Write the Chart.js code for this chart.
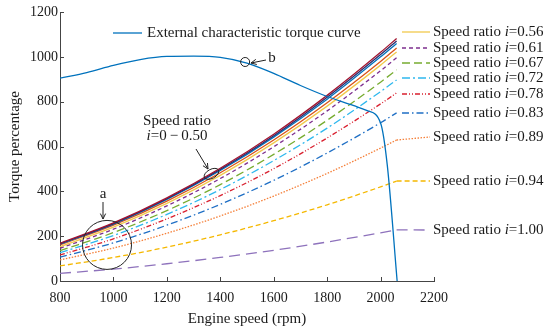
<!DOCTYPE html>
<html>
<head>
<meta charset="utf-8">
<script src="https://cdn.jsdelivr.net/npm/chart.js@4.4.1/dist/chart.umd.min.js"></script>
<style>
  html, body { margin: 0; padding: 0; background: #fff; }
  #wrap { width: 550px; height: 331px; position: relative; }
</style>
</head>
<body>
<div id="wrap"><canvas id="myChart"></canvas></div>
<script>
// engine speed points where the speed-ratio curves were read
let speedRpm = [800, 1000, 1200, 1400, 1600, 1800, 2000, 2060];

// i = 0 - 0.50 (bundle of nearly identical curves)
let torqueI000 = [168, 259, 371, 503, 655, 828, 1020, 1082];
let torqueI020 = [166, 256, 367, 498, 648, 820, 1010, 1071];
let torqueI040 = [165, 254, 364, 493, 642, 811, 1000, 1060];
let torqueI050 = [161, 249, 356, 483, 629, 795, 979, 1039];

let torqueI056 = [153, 240, 346, 471, 616, 780, 963, 1022];
let torqueI061 = [146, 231, 335, 457, 599, 759, 938, 996];
let torqueI067 = [135, 216, 314, 430, 565, 717, 887, 942];
let torqueI072 = [126, 203, 297, 408, 537, 682, 845, 897];
let torqueI078 = [116, 188, 277, 381, 501, 638, 790, 839];
let torqueI083 = [106, 170, 249, 342, 449, 571, 706, 750];
let torqueI089 = [94, 147, 213, 290, 379, 480, 593, 629];
let torqueI094 = [67, 105, 151, 206, 269, 340, 420, 446];
let torqueI100 = [34, 53, 77, 105, 137, 174, 215, 228];

// external characteristic torque curve
let externalRpm = [800, 900, 1000, 1100, 1200, 1300, 1400, 1500, 1600, 1700, 1800, 1900, 1950, 2000, 2025, 2062];
let externalTorque = [905, 930, 962, 988, 1002, 1003, 998, 972, 926, 872, 823, 782, 760, 705, 518, 0];

let ratioLabels = ['0.56', '0.61', '0.67', '0.72', '0.78', '0.83', '0.89', '0.94', '1.00'];
let ratioSeries = [torqueI056, torqueI061, torqueI067, torqueI072, torqueI078, torqueI083, torqueI089, torqueI094, torqueI100];
let ratioColors = ['#F2C94C', '#7E2F8E', '#77AC30', '#2FB8EE', '#D9202F', '#1F6FC5', '#F5803A', '#F5B800', '#8E72BC'];
let ratioDashes = [[], [4, 3], [8, 4], [8, 3, 2, 3], [5, 2, 1, 2, 1, 2], [7, 3, 1.5, 3], [1.5, 1.5], [5, 3], [11, 6]];

let bundleSeries = [torqueI000, torqueI020, torqueI040, torqueI050];
let bundleColors = ['#A2142F', '#2B2B6B', '#0072BD', '#D95319'];

let xTicks = [800, 1000, 1200, 1400, 1600, 1800, 2000, 2200];
let yTicks = [0, 200, 400, 600, 800, 1000, 1200];

const serif = '"Liberation Serif", "Times New Roman", serif';
const textColor = '#1a1a1a';

function pts(xs, ys) { return xs.map((x, k) => ({x: x, y: ys[k]})); }

let datasets = [];
datasets.push({
  label: 'External characteristic torque curve',
  data: pts(externalRpm, externalTorque),
  borderColor: '#0072BD', borderWidth: 1.3, pointRadius: 0,
  cubicInterpolationMode: 'monotone'
});
bundleSeries.forEach((s, k) => {
  datasets.push({
    label: 'i=0-0.50 #' + k, data: pts(speedRpm, s),
    borderColor: bundleColors[k], borderWidth: 1.3, pointRadius: 0,
    cubicInterpolationMode: 'monotone'
  });
});
ratioSeries.forEach((s, k) => {
  datasets.push({
    label: 'Speed ratio i=' + ratioLabels[k], data: pts(speedRpm, s),
    borderColor: ratioColors[k], borderWidth: 1.3, borderDash: ratioDashes[k],
    pointRadius: 0, cubicInterpolationMode: 'monotone'
  });
});

function arrow(ctx, x1, y1, x2, y2) {
  ctx.beginPath(); ctx.moveTo(x1, y1); ctx.lineTo(x2, y2); ctx.stroke();
  const a = Math.atan2(y2 - y1, x2 - x1), L = 6, w = 0.45;
  ctx.beginPath();
  ctx.moveTo(x2 - L * Math.cos(a - w), y2 - L * Math.sin(a - w));
  ctx.lineTo(x2, y2);
  ctx.lineTo(x2 - L * Math.cos(a + w), y2 - L * Math.sin(a + w));
  ctx.stroke();
}

function ratioText(ctx, x, y, val) {
  ctx.font = '15px ' + serif;
  ctx.fillText('Speed ratio ', x, y);
  x += ctx.measureText('Speed ratio ').width;
  ctx.font = 'italic 15px ' + serif;
  ctx.fillText('i', x, y);
  x += ctx.measureText('i').width;
  ctx.font = '15px ' + serif;
  ctx.fillText('=' + val, x, y);
}

const decor = {
  id: 'decor',
  afterDraw(chart) {
    const ctx = chart.ctx, xs = chart.scales.x, ys = chart.scales.y, area = chart.chartArea;
    ctx.save();
    // inward tick marks
    ctx.strokeStyle = '#444'; ctx.lineWidth = 1;
    xTicks.forEach(v => {
      const px = Math.round(xs.getPixelForValue(v)) + 0.5;
      ctx.beginPath(); ctx.moveTo(px, area.bottom); ctx.lineTo(px, area.bottom - 4); ctx.stroke();
    });
    yTicks.forEach(v => {
      const py = Math.round(ys.getPixelForValue(v)) + 0.5;
      ctx.beginPath(); ctx.moveTo(area.left, py); ctx.lineTo(area.left + 4, py); ctx.stroke();
    });

    // legend
    ctx.fillStyle = textColor; ctx.textBaseline = 'middle'; ctx.textAlign = 'left';
    ctx.lineWidth = 1.3;
    ctx.strokeStyle = '#0072BD'; ctx.setLineDash([]);
    ctx.beginPath(); ctx.moveTo(113, 33); ctx.lineTo(142, 33); ctx.stroke();
    ctx.font = '15px ' + serif;
    ctx.fillText('External characteristic torque curve', 147, 33);

    const legendY = [32, 48, 63, 78, 94, 113, 137, 181, 230];
    ratioLabels.forEach((lab, k) => {
      let x0 = 402, y0 = legendY[k];
      if (k >= 6) {
        const s = ratioSeries[k];
        x0 = xs.getPixelForValue(speedRpm[speedRpm.length - 1]);
        y0 = ys.getPixelForValue(s[s.length - 1]);
      }
      ctx.strokeStyle = ratioColors[k]; ctx.setLineDash(ratioDashes[k]);
      ctx.beginPath(); ctx.moveTo(x0, y0); ctx.lineTo(430, legendY[k]); ctx.stroke();
      ctx.setLineDash([]);
      ratioText(ctx, 433, legendY[k], lab);
    });

    // annotations
    ctx.strokeStyle = '#222'; ctx.lineWidth = 1; ctx.setLineDash([]);
    // circle a
    const ax = xs.getPixelForValue(976), ay = ys.getPixelForValue(161);
    ctx.beginPath(); ctx.arc(ax, ay, 24.5, 0, Math.PI * 2); ctx.stroke();
    ctx.font = '15px ' + serif; ctx.textAlign = 'center';
    ctx.fillText('a', 103, 194);
    arrow(ctx, 103, 202, 103, 219);
    // ellipse for i = 0 - 0.50
    const ex = xs.getPixelForValue(1367), ey = ys.getPixelForValue(478);
    ctx.beginPath(); ctx.ellipse(ex, ey, 8, 4.5, -0.5, 0, Math.PI * 2); ctx.stroke();
    ctx.fillText('Speed ratio', 177, 121);
    ctx.font = 'italic 15px ' + serif;
    const w1 = ctx.measureText('i').width;
    ctx.font = '15px ' + serif;
    const rest = '=0\u2009\u2212\u20090.50';
    const w2 = ctx.measureText(rest).width;
    const sx = 177 - (w1 + w2) / 2;
    ctx.textAlign = 'left';
    ctx.font = 'italic 15px ' + serif; ctx.fillText('i', sx, 136);
    ctx.font = '15px ' + serif; ctx.fillText(rest, sx + w1, 136);
    arrow(ctx, 196, 149, 208, 169);
    // circle b
    const bx = xs.getPixelForValue(1493), by = ys.getPixelForValue(977);
    ctx.beginPath(); ctx.arc(bx, by, 4.5, 0, Math.PI * 2); ctx.stroke();
    ctx.textAlign = 'center';
    ctx.fillText('b', 272, 58);
    arrow(ctx, 266, 60, 251, 63);
    ctx.restore();
  }
};

let myChart = document.getElementById('myChart').getContext('2d');
let chart = new Chart(myChart, {
  type: 'line',
  data: { datasets: datasets },
  options: {
    responsive: true,
    maintainAspectRatio: false,
    animation: false,
    layout: { padding: { left: 0, right: 116, top: 12, bottom: 0 } },
    plugins: { legend: { display: false }, tooltip: { enabled: false } },
    scales: {
      x: {
        type: 'linear', min: 800, max: 2200,
        afterBuildTicks: s => { s.ticks = xTicks.map(v => ({value: v})); },
        afterFit: s => { s.height = 50; },
        grid: { display: false, drawTicks: false },
        border: { display: true, color: '#444', width: 1 },
        ticks: { color: textColor, font: { family: serif, size: 14 }, padding: 9, maxRotation: 0, callback: v => String(v) },
        title: { display: true, text: 'Engine speed (rpm)', color: textColor, font: { family: serif, size: 15 }, padding: { top: 0, bottom: 3 } }
      },
      y: {
        type: 'linear', min: 0, max: 1200,
        afterBuildTicks: s => { s.ticks = yTicks.map(v => ({value: v})); },
        afterFit: s => { s.width = 60; },
        grid: { display: false, drawTicks: false },
        border: { display: true, color: '#444', width: 1 },
        ticks: { color: textColor, font: { family: serif, size: 14 }, padding: 2, callback: v => String(v) },
        title: { display: true, text: 'Torque percentage', color: textColor, font: { family: serif, size: 15 }, padding: { top: 6, bottom: 0 } }
      }
    }
  },
  plugins: [decor]
});
</script>
</body>
</html>
